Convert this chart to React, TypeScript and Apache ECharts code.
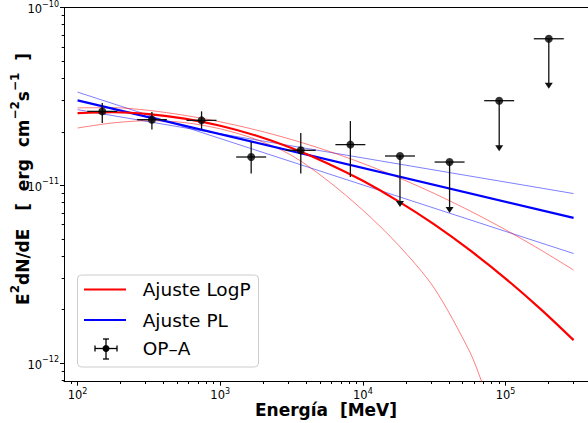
import React, { useEffect, useRef } from "react";
import * as echarts from "echarts";

// ---- model curves (E in MeV, E^2 dN/dE in erg cm^-2 s^-1) ----
const logpEnergy = [100, 178, 316, 562, 1000, 1778, 3162, 5623, 1e4, 17783, 31623, 56234, 1e5, 177828, 3e5];
const logpFit = [2.547e-11, 2.574e-11, 2.514e-11, 2.373e-11, 2.163e-11, 1.905e-11, 1.621e-11, 1.332e-11, 1.059e-11, 8.12e-12, 6.02e-12, 4.31e-12, 2.986e-12, 1.998e-12, 1.345e-12];
const logpUpper = [2.725e-11, 2.732e-11, 2.638e-11, 2.474e-11, 2.274e-11, 2.048e-11, 1.808e-11, 1.565e-11, 1.327e-11, 1.104e-11, 8.99e-12, 7.18e-12, 5.62e-12, 4.31e-12, 3.334e-12];
const logpLowerEnergy = [100, 178, 316, 562, 1000, 1778, 3162, 5623, 1e4, 17783, 31623, 56234, 68077, 79433];
const logpLower = [2.099e-11, 2.244e-11, 2.309e-11, 2.253e-11, 2.077e-11, 1.813e-11, 1.474e-11, 1.067e-11, 7.24e-12, 4.6e-12, 2.638e-12, 1.153e-12, 7.85e-13, 5.59e-13];
const plEnergy = [100, 3e5];
const plFit = [3.003e-11, 6.55e-12];
const plBandSteep = [3.342e-11, 4.13e-12];
const plBandFlat = [2.662e-11, 8.98e-12];

// ---- data points OP-A ----
const binCenter = [149, 332, 740, 1648, 3670, 8173, 18200, 40530, 90270, 201000];
const binLow = [117, 260.7, 581, 1294, 2882, 6418, 14291, 31826, 70883, 157833];
const binHigh = [189.8, 422.8, 942, 2099, 4674, 10408, 23178, 51615, 114959, 255974];
const flux = [2.604e-11, 2.339e-11, 2.318e-11, 1.442e-11, 1.573e-11, 1.693e-11, 1.461e-11, 1.351e-11, 2.991e-11, 6.67e-11];
const fluxHigh = [2.901e-11, 2.58e-11, 2.604e-11, 1.751e-11, 1.967e-11, 2.297e-11, 1.461e-11, 1.351e-11, 2.991e-11, 6.67e-11];
const fluxLow = [2.239e-11, 2.056e-11, 2.064e-11, 1.163e-11, 1.163e-11, 1.113e-11, 7.55e-12, 6.99e-12, 1.552e-11, 3.49e-11];
const upperLimit = [0, 0, 0, 0, 0, 0, 1, 1, 1, 1];

// ---- axes ----
const xMajorExp = [2, 3, 4, 5];
const yMajorExp = [-12, -11, -10];
const X_MIN = 1.905;
const X_MAX = 5.578;
const Y_MIN = -12.105;
const Y_MAX = -10;

const L = Math.log10;
const toLine = (es: number[], vs: number[]) => es.map((e, i) => [L(e), L(vs[i])]);

function minorTicks(nFrom: number, nTo: number, lo: number, hi: number) {
  const out: number[] = [];
  for (let n = nFrom; n <= nTo; n++) {
    for (let k = 2; k <= 9; k++) {
      const v = L(k) + n;
      if (v > lo && v < hi) out.push(v);
    }
  }
  return out;
}

const sup = (v: number) => String(Math.round(v)).replace("-", "\u2212");

export default function App() {
  const ref = useRef<HTMLDivElement>(null);
  useEffect(() => {
    document.body.style.margin = "0";
    if (!ref.current) return;
    const chart = echarts.init(ref.current, null, { renderer: "svg" });
    const font = "DejaVu Sans";
    const richY = {
      b: { fontSize: 11.5, fontFamily: font, color: "#000", lineHeight: 15, verticalAlign: "bottom" },
      s: { fontSize: 8, fontFamily: font, color: "#000", lineHeight: 15, verticalAlign: "top" },
    };
    const richX = {
      b: { fontSize: 11.5, fontFamily: font, color: "#000", lineHeight: 13, verticalAlign: "bottom" },
      s: { fontSize: 8, fontFamily: font, color: "#000", lineHeight: 13, verticalAlign: "top" },
    };
    const lbl = (v: number) => `{b|10}{s|${sup(v)}}`;
    const axisLineStyle = { color: "#000", width: 1 };
    const errData = binCenter.map((e, i) => [
      L(e), L(flux[i]), L(binLow[i]), L(binHigh[i]), L(fluxLow[i]), L(fluxHigh[i]), upperLimit[i],
    ]);
    const lineS = (data: number[][], color: string, width: number, z: number, smooth: number | boolean) => ({
      type: "line",
      data,
      smooth,
      showSymbol: false,
      symbol: "none",
      lineStyle: { color, width },
      z,
      silent: true,
    });
    const yRich = {
      n: { fontSize: 17, fontWeight: "bold", fontFamily: font, color: "#000", lineHeight: 22, verticalAlign: "bottom" },
      s: { fontSize: 12, fontWeight: "bold", fontFamily: font, color: "#000", lineHeight: 22, verticalAlign: "top" },
    };
    const option: any = {
      animation: false,
      grid: { left: 64, top: 7, right: 0, bottom: 41.3, containLabel: false },
      xAxis: [
        {
          type: "value", min: X_MIN, max: X_MAX, position: "bottom",
          axisLine: { show: true, onZero: false, lineStyle: axisLineStyle },
          axisTick: { show: true, customValues: xMajorExp, length: 4, lineStyle: axisLineStyle },
          axisLabel: { show: true, customValues: xMajorExp, formatter: lbl, rich: richX, margin: 6 },
          splitLine: { show: false },
        },
        {
          type: "value", min: X_MIN, max: X_MAX, position: "bottom",
          axisLine: { show: false, onZero: false },
          axisTick: { show: true, customValues: minorTicks(1, 5, X_MIN, X_MAX), length: 2.3, lineStyle: axisLineStyle },
          axisLabel: { show: false },
          splitLine: { show: false },
        },
        {
          type: "value", min: X_MIN, max: X_MAX, position: "top",
          axisLine: { show: true, onZero: false, lineStyle: axisLineStyle },
          axisTick: { show: false }, axisLabel: { show: false }, splitLine: { show: false },
        },
      ],
      yAxis: [
        {
          type: "value", min: Y_MIN, max: Y_MAX, position: "left",
          axisLine: { show: true, onZero: false, lineStyle: axisLineStyle },
          axisTick: { show: true, customValues: yMajorExp, length: 4, lineStyle: axisLineStyle },
          axisLabel: { show: true, customValues: yMajorExp, formatter: lbl, rich: richY, margin: 5 },
          splitLine: { show: false },
        },
        {
          type: "value", min: Y_MIN, max: Y_MAX, position: "left",
          axisLine: { show: false, onZero: false },
          axisTick: { show: true, customValues: minorTicks(-13, -11, Y_MIN, Y_MAX), length: 2.3, lineStyle: axisLineStyle },
          axisLabel: { show: false },
          splitLine: { show: false },
        },
      ],
      series: [
        lineS(toLine(plEnergy, plBandSteep), "rgba(0,0,255,0.5)", 1, 2, false),
        lineS(toLine(plEnergy, plBandFlat), "rgba(0,0,255,0.5)", 1, 2, false),
        lineS(toLine(logpEnergy, logpUpper), "rgba(255,0,0,0.5)", 1, 2, 0.3),
        lineS(toLine(logpLowerEnergy, logpLower), "rgba(255,0,0,0.5)", 1, 2, 0.3),
        lineS(toLine(plEnergy, plFit), "#0000ff", 2.2, 3, false),
        lineS(toLine(logpEnergy, logpFit), "#ff0000", 2.2, 3, 0.3),
        {
          type: "custom",
          z: 4,
          silent: true,
          data: errData,
          encode: { x: 0, y: 1 },
          renderItem: (_p: any, api: any) => {
            const c = api.coord([api.value(0), api.value(1)]);
            const l = api.coord([api.value(2), api.value(1)]);
            const r = api.coord([api.value(3), api.value(1)]);
            const lo = api.coord([api.value(0), api.value(4)]);
            const hi = api.coord([api.value(0), api.value(5)]);
            const ul = api.value(6) === 1;
            const style = { stroke: "#111", lineWidth: 1.3 };
            const children: any[] = [
              { type: "line", shape: { x1: l[0], y1: c[1], x2: r[0], y2: c[1] }, style },
              { type: "line", shape: { x1: c[0], y1: ul ? c[1] : hi[1], x2: c[0], y2: ul ? lo[1] - 5 : lo[1] }, style },
            ];
            if (ul) {
              children.push({
                type: "polygon",
                shape: { points: [[c[0] - 4, lo[1] - 6], [c[0] + 4, lo[1] - 6], [c[0], lo[1]]] },
                style: { fill: "#111" },
              });
            }
            return { type: "group", children };
          },
        },
        {
          type: "scatter",
          z: 5,
          silent: true,
          data: binCenter.map((e, i) => [L(e), L(flux[i])]),
          symbol: "circle",
          symbolSize: 8,
          itemStyle: { color: "#000" },
        },
      ],
      graphic: [
        {
          type: "text", x: 20, y: 179, rotation: Math.PI / 2, z: 100,
          style: {
            text: "{n|E}{s|2}{n|dN/dE   [  erg  cm}{s|\u22122}{n|s}{s|\u22121}{n|  ]}",
            rich: yRich, align: "center", verticalAlign: "middle",
          },
        },
        {
          type: "text", x: 326, y: 409.5, z: 100,
          style: {
            text: "Energía  [MeV]",
            font: "bold 17px 'DejaVu Sans'", fill: "#000", align: "center", verticalAlign: "middle",
          },
        },
        {
          type: "group", z: 100,
          children: [
            {
              type: "rect", shape: { x: 77.5, y: 275, width: 181, height: 92, r: 4 },
              style: { fill: "rgba(255,255,255,0.8)", stroke: "#cccccc", lineWidth: 1 },
            },
            { type: "line", shape: { x1: 84, y1: 289.5, x2: 126, y2: 289.5 }, style: { stroke: "#ff0000", lineWidth: 2 } },
            {
              type: "text", x: 142.7, y: 289.5,
              style: { text: "Ajuste LogP", font: "18.5px 'DejaVu Sans'", fill: "#000", verticalAlign: "middle" },
            },
            { type: "line", shape: { x1: 84, y1: 320, x2: 126, y2: 320 }, style: { stroke: "#0000ff", lineWidth: 2 } },
            {
              type: "text", x: 142.7, y: 320,
              style: { text: "Ajuste PL", font: "18.5px 'DejaVu Sans'", fill: "#000", verticalAlign: "middle" },
            },
            { type: "line", shape: { x1: 95, y1: 348.5, x2: 117, y2: 348.5 }, style: { stroke: "#000", lineWidth: 1.3 } },
            { type: "line", shape: { x1: 95, y1: 345.5, x2: 95, y2: 351.5 }, style: { stroke: "#000", lineWidth: 1.3 } },
            { type: "line", shape: { x1: 117, y1: 345.5, x2: 117, y2: 351.5 }, style: { stroke: "#000", lineWidth: 1.3 } },
            { type: "line", shape: { x1: 106, y1: 339, x2: 106, y2: 359 }, style: { stroke: "#000", lineWidth: 1.3 } },
            { type: "line", shape: { x1: 103, y1: 339, x2: 109, y2: 339 }, style: { stroke: "#000", lineWidth: 1.3 } },
            { type: "line", shape: { x1: 103, y1: 359, x2: 109, y2: 359 }, style: { stroke: "#000", lineWidth: 1.3 } },
            { type: "circle", shape: { cx: 106, cy: 348.5, r: 3.5 }, style: { fill: "#000" } },
            {
              type: "text", x: 142.7, y: 348.5,
              style: { text: "OP\u2013A", font: "18.5px 'DejaVu Sans'", fill: "#000", verticalAlign: "middle" },
            },
          ],
        },
      ],
    };
    chart.setOption(option);
    return () => chart.dispose();
  }, []);
  return <div ref={ref} style={{ width: 588, height: 423 }} />;
}
